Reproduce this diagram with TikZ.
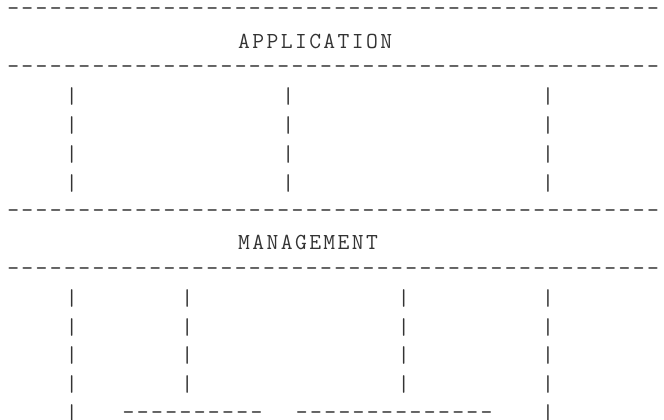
\documentclass[tikz,border=0pt]{standalone}
\usepackage{fontspec}
\newfontfamily\asciifont[LetterSpace=10.5]{Latin Modern Mono}

\tikzset{
  ascii/.style={font=\asciifont\fontsize{17.2}{21.6}\selectfont, inner sep=0pt, text=black!80, align=center},
}

\begin{document}
\begin{tikzpicture}[x=0.75pt,y=0.75pt,yscale=-1,xscale=1]
\clip (0,0) rectangle (664,419);

% Rule Lines
\draw (7,15.8) node (appTop) [ascii,anchor=base west] {----------------------------------------------};
\draw (7,73.4) node (appBot) [ascii,anchor=base west] {----------------------------------------------};
\draw (7,217.4) node (mgmtTop) [ascii,anchor=base west] {----------------------------------------------};
\draw (7,275.0) node (mgmtBot) [ascii,anchor=base west] {----------------------------------------------};

% Text Node
\draw (237.9,48.3) node (appTitle) [ascii,anchor=base west] {APPLICATION};
% Text Node
\draw (237.9,249.2) node (mgmtTitle) [ascii,anchor=base west] {MANAGEMENT};

% Pipes under APPLICATION
\draw (71.9,139.9) node (appA) [ascii] {|\\|\\|\\|};
\draw (288.4,139.9) node (appB) [ascii] {|\\|\\|\\|};
\draw (548.1,139.9) node (appC) [ascii] {|\\|\\|\\|};

% Pipes under MANAGEMENT
\draw (71.9,355.9) node (mgmtA) [ascii] {|\\|\\|\\|\\|};
\draw (187.4,341.5) node (mgmtB) [ascii] {|\\|\\|\\|};
\draw (403.8,341.5) node (mgmtC) [ascii] {|\\|\\|\\|};
\draw (548.1,355.9) node (mgmtD) [ascii] {|\\|\\|\\|\\|};

% Bottom Lines
\draw (122.4,419.0) node (baseLeft) [ascii,anchor=base west] {----------};
\draw (295.6,419.0) node (baseRight) [ascii,anchor=base west] {--------------};

\end{tikzpicture}
\end{document}
